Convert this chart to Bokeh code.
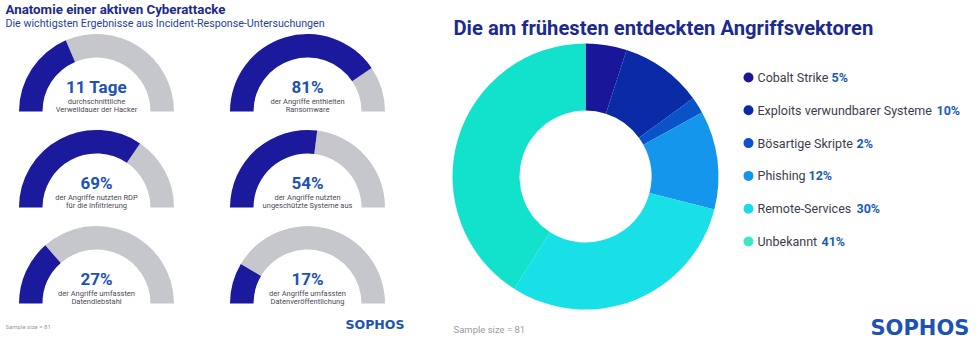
import math
from bokeh.plotting import figure
from bokeh.models import Range1d, ColumnDataSource
from bokeh.core.properties import value
from bokeh.embed import file_html
from bokeh.resources import INLINE

# ---------------- data ----------------
left_title = "Anatomie einer aktiven Cyberattacke"
left_subtitle = "Die wichtigsten Ergebnisse aus Incident-Response-Untersuchungen"
gauge_values = ["11 Tage", "81%", "69%", "54%", "27%", "17%"]
gauge_fill = [37, 81, 69, 54, 27, 17]          # filled share of each half ring (%)
gauge_line1 = ["durchschnittliche", "der Angriffe enthielten", "der Angriffe nutzten RDP",
               "der Angriffe nutzten", "der Angriffe umfassten", "der Angriffe umfassten"]
gauge_line2 = ["Verweildauer der Hacker", "Ransomware", "für die Infiltrierung",
               "ungeschützte Systeme aus", "Datendiebstahl", "Datenveröffentlichung"]

right_title = "Die am frühesten entdeckten Angriffsvektoren"
vector_names = ["Cobalt Strike", "Exploits verwundbarer Systeme", "Bösartige Skripte",
                "Phishing", "Remote-Services", "Unbekannt"]
vector_share = [5, 10, 2, 12, 30, 41]
sample_note = "Sample size = 81"
brand = "SOPHOS"

# ---------------- styles / layout ----------------
W, H = 980, 343
FONT = "Roboto"
NAVY = "#1b2a8c"
GAUGE_BLUE = "#1c1a9c"
GAUGE_GREY = "#c5c7cc"
NUM_BLUE = "#1d52b5"
SUB_GREY = "#4a4a55"
vector_colors = ["#1a169a", "#0a2aa6", "#0a52c8", "#1496ec", "#18e0e6", "#12e2cc"]
legend_colors = ["#1a169a", "#0a2aa6", "#0a52c8", "#1496ec", "#18dde6", "#3ee8c6"]


def Y(y):
    return H - y


p = figure(width=W, height=H, x_range=Range1d(0, W), y_range=Range1d(0, H),
           toolbar_location=None, output_backend="svg",
           x_axis_type=None, y_axis_type=None, min_border=0,
           background_fill_color="white", border_fill_color="white")
p.outline_line_color = None
p.grid.visible = False

# ---------------- left panel: gauges ----------------
col_x = [96, 307]
row_y = [111, 207, 303]
R_OUT, R_IN = 77.5, 54

gx, gy, s_blue, e_blue, s_grey, e_grey = [], [], [], [], [], []
for i, f in enumerate(gauge_fill):
    cx = col_x[i % 2]
    cy = row_y[i // 2]
    gx.append(cx)
    gy.append(Y(cy))
    a = math.pi * (1 - f / 100.0)
    s_blue.append(a)
    e_blue.append(math.pi)
    s_grey.append(0.0)
    e_grey.append(a)

gsrc = ColumnDataSource(dict(x=gx, y=gy, sb=s_blue, eb=e_blue, sg=s_grey, eg=e_grey,
                             val=gauge_values, l1=gauge_line1, l2=gauge_line2,
                             ynum=[v + 25 for v in gy], yl1=[v + 10 for v in gy],
                             yl2=[v + 2 for v in gy]))
p.annular_wedge(x="x", y="y", inner_radius=R_IN, outer_radius=R_OUT,
                start_angle="sg", end_angle="eg", color=GAUGE_GREY, line_color=None, source=gsrc)
p.annular_wedge(x="x", y="y", inner_radius=R_IN, outer_radius=R_OUT,
                start_angle="sb", end_angle="eb", color=GAUGE_BLUE, line_color=None, source=gsrc)

p.text(x="x", y="ynum", text="val", source=gsrc, text_font=value(FONT),
       text_font_style="bold", text_font_size="17px", text_color=NUM_BLUE,
       text_align="center", text_baseline="middle")
p.text(x="x", y="yl1", text="l1", source=gsrc, text_font=value(FONT),
       text_font_size="7.5px", text_color=SUB_GREY, text_align="center", text_baseline="middle")
p.text(x="x", y="yl2", text="l2", source=gsrc, text_font=value(FONT),
       text_font_size="7.5px", text_color=SUB_GREY, text_align="center", text_baseline="middle")

p.text(x=[5], y=[Y(9)], text=[left_title], text_font=value(FONT), text_font_style="bold",
       text_font_size="13.3px", text_color=NAVY, text_baseline="middle")
p.text(x=[5], y=[Y(23)], text=[left_subtitle], text_font=value(FONT),
       text_font_size="10.7px", text_color="#1e3fa0", text_baseline="middle")
p.text(x=[5], y=[Y(326)], text=[sample_note], text_font=value(FONT),
       text_font_size="6px", text_color="#9a9aa2", text_baseline="middle")
p.text(x=[345], y=[Y(324)], text=[brand], text_font=value("DejaVu Sans"), text_font_style="bold",
       text_font_size="12.5px", text_color="#1d52b5", text_baseline="middle")

# ---------------- right panel: donut ----------------
DCX, DCY = 585, 176
D_OUT, D_IN = 133, 66
total = float(sum(vector_share))
starts, ends = [], []
cum = 0.0
for v in vector_share:
    c0 = cum / total
    cum += v
    c1 = cum / total
    starts.append(math.pi / 2 - 2 * math.pi * c1)
    ends.append(math.pi / 2 - 2 * math.pi * c0)

dsrc = ColumnDataSource(dict(x=[DCX] * len(vector_share), y=[Y(DCY)] * len(vector_share),
                             s=starts, e=ends, c=vector_colors))
p.annular_wedge(x="x", y="y", inner_radius=D_IN, outer_radius=D_OUT,
                start_angle="s", end_angle="e", color="c", line_color=None, source=dsrc)

p.text(x=[453], y=[Y(27)], text=[right_title], text_font=value(FONT), text_font_style="bold",
       text_font_size="20.2px", text_color=NAVY, text_baseline="middle")

# legend
leg_y = [Y(77 + i * 32.8) for i in range(len(vector_names))]
pct_x = [831, 936, 856, 808, 856, 821]
lsrc = ColumnDataSource(dict(dx=[748] * len(vector_names), tx=[757] * len(vector_names),
                             px=pct_x, y=leg_y, name=vector_names,
                             pct=[f"{v}%" for v in vector_share], c=legend_colors))
p.scatter(x="dx", y="y", size=10, marker="circle", color="c", line_color=None, source=lsrc)
p.text(x="tx", y="y", text="name", source=lsrc, text_font=value(FONT),
       text_font_size="12.5px", text_color="#3c3c4c", text_baseline="middle")
p.text(x="px", y="y", text="pct", source=lsrc, text_font=value(FONT), text_font_style="bold",
       text_font_size="12.5px", text_color="#1a5ab5", text_baseline="middle")

p.text(x=[453], y=[Y(329)], text=[sample_note], text_font=value(FONT),
       text_font_size="9.5px", text_color="#9a9aa2", text_baseline="middle")
p.text(x=[870], y=[Y(327)], text=[brand], text_font=value("DejaVu Sans"), text_font_style="bold",
       text_font_size="21px", text_color="#1d52b5", text_baseline="middle")

open("out.html", "w").write(file_html(p, INLINE))
